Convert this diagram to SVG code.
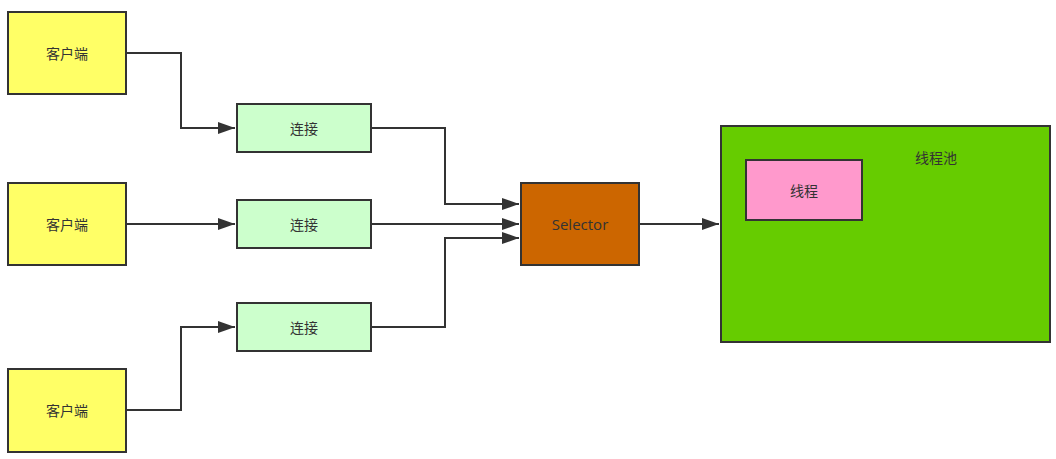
<svg xmlns="http://www.w3.org/2000/svg" width="1056" height="459" viewBox="0 0 1056 459">
<defs>
<style>
.box{stroke:#333;stroke-width:2}
.client{fill:#ffff66}
.conn{fill:#ccffcc}
.sel{fill:#cc6600}
.pool{fill:#66cc00}
.thread{fill:#ff99cc}
text{font-family:"Noto Sans CJK SC","Open Sans","Liberation Sans",sans-serif;font-size:14px;fill:#333;text-anchor:middle;dominant-baseline:central}
.latin{font-family:"Open Sans","Liberation Sans",sans-serif;font-size:15px}
.edge{fill:none;stroke:#333;stroke-width:2}
</style>
<marker id="arr" markerUnits="userSpaceOnUse" markerWidth="18" markerHeight="12" refX="17" refY="6" orient="auto">
<path d="M0,0 L17,6 L0,12 Z" fill="#333"/>
</marker>
</defs>
<rect width="1056" height="459" fill="#fff"/>
<g id="connectors">
<path class="edge" d="M126,53 H181 V128 H235" marker-end="url(#arr)"/>
<path class="edge" d="M126,224 H235" marker-end="url(#arr)"/>
<path class="edge" d="M126,410 H181 V327 H235" marker-end="url(#arr)"/>
<path class="edge" d="M371,128 H445 V204 H519" marker-end="url(#arr)"/>
<path class="edge" d="M371,224 H519" marker-end="url(#arr)"/>
<path class="edge" d="M371,327 H445 V238 H519" marker-end="url(#arr)"/>
<path class="edge" d="M639,224 H719" marker-end="url(#arr)"/>
</g>
<g id="client1"><rect class="box client" x="8" y="12" width="118" height="82"/><text x="67" y="53">客户端</text></g>
<g id="client2"><rect class="box client" x="8" y="183" width="118" height="82"/><text x="67" y="224">客户端</text></g>
<g id="client3"><rect class="box client" x="8" y="369" width="118" height="83"/><text x="67" y="410">客户端</text></g>
<g id="conn1"><rect class="box conn" x="237" y="104" width="134" height="48"/><text x="304" y="128">连接</text></g>
<g id="conn2"><rect class="box conn" x="237" y="200" width="134" height="48"/><text x="304" y="224">连接</text></g>
<g id="conn3"><rect class="box conn" x="237" y="303" width="134" height="48"/><text x="304" y="327">连接</text></g>
<g id="selector"><rect class="box sel" x="521" y="183" width="118" height="82"/><text class="latin" x="580" y="224">Selector</text></g>
<g id="pool"><rect class="box pool" x="721" y="126" width="329" height="216"/><text x="936" y="157">线程池</text></g>
<g id="thread"><rect class="box thread" x="746" y="160" width="116" height="60"/><text x="804" y="190">线程</text></g>
</svg>
